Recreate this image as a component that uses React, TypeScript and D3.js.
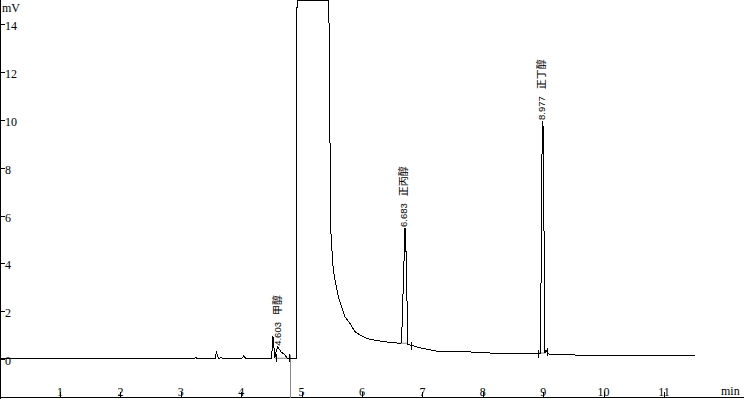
import React, { useEffect, useRef } from "react";
import * as d3 from "d3";

// chromatogram trace (min, mV)
const traceTime = [
  0, 3.2, 3.25, 3.3, 3.57, 3.59, 3.62, 3.67, 3.72, 4.0, 4.04, 4.08, 4.5,
  4.505, 4.522, 4.532, 4.555, 4.578, 4.603, 4.66, 4.725, 4.76, 4.8, 4.914,
  4.918, 4.925, 5.1, 5.3, 5.445, 5.454, 5.467, 5.478, 5.483, 5.503, 5.525,
  5.553, 5.608, 5.664, 5.719, 5.801, 5.884, 5.967, 6.104, 6.298, 6.513,
  6.629, 6.655, 6.712, 6.725, 6.76, 6.795, 6.96, 7.237, 7.838, 8.064, 8.396,
  8.914, 8.955, 8.985, 9.0, 9.03, 9.05, 9.08, 9.39, 9.72, 10.05, 10.82, 11.51,
];
const traceMv = [
  0, 0, 0.05, 0, 0, 0.32, 0.03, 0.05, 0, 0, 0.12, 0.02, 0,
  0.03, 0.93, 0.9, 0.05, 0.3, 0.51, 0.3, 0.17, 0.03, 0, 0,
  11.1, 40, 320, 120, 16, 14.06, 9.83, 7.49, 5.4, 4.56, 3.72,
  3.31, 2.61, 2.19, 1.77, 1.49, 1.14, 1.0, 0.84, 0.75, 0.68,
  0.66, 0.68, 5.48, 5.0, 0.62, 0.59, 0.47, 0.33, 0.29, 0.26, 0.21,
  0.21, 0.21, 9.96, 9.7, 0.25, 0.37, 0.21, 0.18, 0.15, 0.14, 0.13, 0.13,
];

// labelled peaks
const peakTimes = [4.603, 6.683, 8.977];
const peakHeights = [0.51, 5.48, 9.96];
const peakNames = ["甲醇", "正丙醇", "正丁醇"];

// integration baselines (grey) and start/end marks
const baseStart = [4.56, 6.6, 8.93];
const baseEnd = [4.808, 6.745, 9.03];
const baseMv = [0.03, 0.66, 0.25];
const markTimes = [4.576, 4.797, 6.81, 8.92, 9.06];
const markMv = [0.06, 0.04, 0.56, 0.19, 0.3];
const eventTime = 4.8;
const eventMv = 0.15;

const xTicks = [1, 2, 3, 4, 5, 6, 7, 8, 9, 10, 11];
const yTicks = [0, 2, 4, 6, 8, 10, 12, 14];

const App: React.FC = () => {
  const svgRef = useRef<SVGSVGElement | null>(null);

  useEffect(() => {
    const width = 744;
    const height = 399;
    const axisY = 397.5;

    const svg = d3.select(svgRef.current).attr("width", width).attr("height", height);
    svg.selectAll("*").remove();

    const x = d3.scaleLinear().domain([0, 12.325]).range([-0.4, width]);
    const y = d3.scaleLinear().domain([-1.632, 15.0]).range([398, 0.5]).clamp(true);

    const serif = "'Liberation Serif', 'DejaVu Serif', serif";

    // axes
    svg.append("line")
      .attr("x1", 0.5).attr("x2", 0.5).attr("y1", 0).attr("y2", height)
      .attr("stroke", "#000").attr("shape-rendering", "crispEdges");
    svg.append("line")
      .attr("x1", 0).attr("x2", width).attr("y1", axisY).attr("y2", axisY)
      .attr("stroke", "#000").attr("shape-rendering", "crispEdges");

    // y ticks
    const yg = svg.append("g");
    yg.selectAll("line")
      .data(yTicks)
      .join("line")
      .attr("x1", 1).attr("x2", 5)
      .attr("y1", (d) => Math.round(y(d)) + 0.5)
      .attr("y2", (d) => Math.round(y(d)) + 0.5)
      .attr("stroke", "#000").attr("shape-rendering", "crispEdges");
    yg.selectAll("text")
      .data(yTicks)
      .join("text")
      .attr("x", 5)
      .attr("y", (d) => y(d) + 6)
      .attr("font-family", serif)
      .attr("font-size", 12)
      .attr("fill", "#000")
      .text((d) => d);

    // x ticks
    const xg = svg.append("g");
    xg.selectAll("line")
      .data(xTicks)
      .join("line")
      .attr("x1", (d) => Math.round(x(d)) + 0.5)
      .attr("x2", (d) => Math.round(x(d)) + 0.5)
      .attr("y1", 392).attr("y2", 398)
      .attr("stroke", "#000").attr("shape-rendering", "crispEdges");
    xg.selectAll("text")
      .data(xTicks)
      .join("text")
      .attr("x", (d) => x(d))
      .attr("y", 396)
      .attr("text-anchor", "middle")
      .attr("font-family", serif)
      .attr("font-size", 12)
      .attr("fill", "#000")
      .text((d) => d);

    svg.append("text")
      .attr("x", 2).attr("y", 12)
      .attr("font-family", serif).attr("font-size", 12)
      .text("mV");
    svg.append("text")
      .attr("x", 721).attr("y", 395)
      .attr("font-family", serif).attr("font-size", 12)
      .text("min");

    // grey integration baselines and event line
    svg.selectAll(".base")
      .data(baseStart)
      .join("line")
      .attr("class", "base")
      .attr("x1", (d) => x(d))
      .attr("x2", (_d, i) => x(baseEnd[i]))
      .attr("y1", (_d, i) => y(baseMv[i]))
      .attr("y2", (_d, i) => y(baseMv[i]))
      .attr("stroke", "#888");
    svg.append("line")
      .attr("x1", Math.round(x(eventTime)) + 0.5)
      .attr("x2", Math.round(x(eventTime)) + 0.5)
      .attr("y1", y(eventMv)).attr("y2", 398)
      .attr("stroke", "#888").attr("shape-rendering", "crispEdges");

    // trace
    const pts = traceTime.map((t, i) => [t, traceMv[i]] as [number, number]);
    const line = d3.line<[number, number]>()
      .x((d) => x(d[0]))
      .y((d) => y(d[1]));
    svg.append("path")
      .datum(pts)
      .attr("d", line)
      .attr("fill", "none")
      .attr("stroke", "#000")
      .attr("stroke-width", 1)
      .attr("shape-rendering", "crispEdges");

    // peak start/end marks
    svg.selectAll(".mark")
      .data(markTimes)
      .join("line")
      .attr("class", "mark")
      .attr("x1", (d) => Math.round(x(d)) + 0.5)
      .attr("x2", (d) => Math.round(x(d)) + 0.5)
      .attr("y1", (_d, i) => y(markMv[i]) - 4)
      .attr("y2", (_d, i) => y(markMv[i]) + 4)
      .attr("stroke", "#000").attr("shape-rendering", "crispEdges");

    // peak labels, rotated
    const lab = svg.selectAll(".peak")
      .data(peakTimes)
      .join("text")
      .attr("class", "peak")
      .attr("transform", (d, i) => `translate(${x(d) + 3.5},${y(peakHeights[i]) - 1}) rotate(-90)`)
      .attr("font-family", "'Liberation Sans', 'Noto Sans CJK SC', sans-serif")
      .attr("font-size", 9.5)
      .attr("fill", "#000");
    lab.append("tspan").text((d) => d.toFixed(3));
    lab.append("tspan")
      .attr("dx", 7)
      .attr("font-family", "'Noto Sans CJK SC', sans-serif")
      .attr("font-size", 10)
      .text((_d, i) => peakNames[i]);
  }, []);

  return (
    <svg
      ref={svgRef}
      style={{ position: "absolute", left: 0, top: 0, display: "block", background: "#fff" }}
    ></svg>
  );
};

export default App;
